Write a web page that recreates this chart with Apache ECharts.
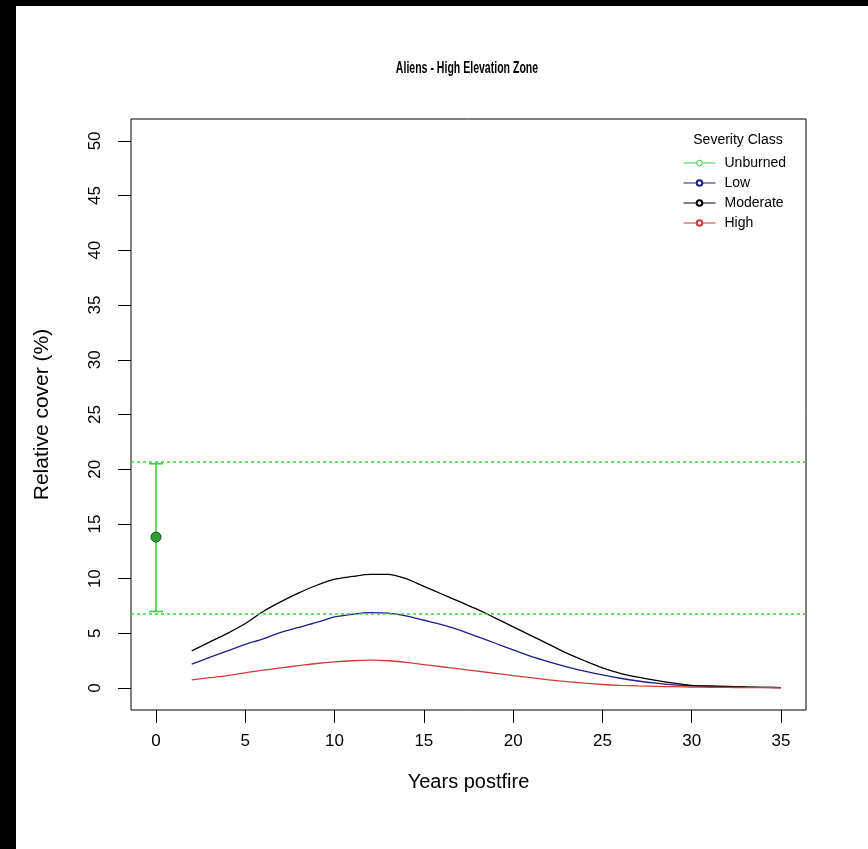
<!DOCTYPE html>
<html>
<head>
<meta charset="utf-8">
<script src="https://cdn.jsdelivr.net/npm/echarts@6/dist/echarts.min.js"></script>
<style>
  html, body { margin: 0; padding: 0; background: #000; }
  #chart { width: 868px; height: 849px; }
</style>
</head>
<body>
<div id="chart"></div>
<script>
// Years postfire for the modelled curves
const years = [2,3,4,5,6,7,8,9,10,11,12,13,14,15,16,17,18,19,20,21,22,23,24,25,26,27,28,29,30,31,32,33,34,35];

// Relative cover (%) by severity class
const lowCover = [2.2,2.8,3.4,4.0,4.5,5.1,5.55,6.0,6.5,6.75,6.9,6.85,6.6,6.2,5.8,5.3,4.7,4.1,3.5,2.9,2.4,1.95,1.55,1.2,0.9,0.65,0.45,0.3,0.2,0.15,0.1,0.08,0.06,0.05];
const moderateCover = [3.4,4.2,5.0,5.9,7.0,7.9,8.7,9.4,9.95,10.2,10.4,10.4,10.0,9.3,8.6,7.9,7.2,6.4,5.6,4.8,4.0,3.2,2.5,1.85,1.35,1.0,0.7,0.45,0.25,0.2,0.15,0.1,0.07,0.05];
const highCover = [0.75,0.95,1.15,1.4,1.65,1.85,2.05,2.25,2.4,2.5,2.55,2.5,2.35,2.15,1.95,1.75,1.55,1.35,1.15,0.95,0.75,0.6,0.45,0.33,0.25,0.2,0.16,0.13,0.1,0.08,0.06,0.05,0.04,0.03];

// Unburned reference: mean with interval, plus band limits
const unburnedYear = 0;
const unburnedMean = 13.8;
const unburnedLow = 7.0;
const unburnedHigh = 20.5;
const bandLimits = [20.7, 6.8];

// Tick labels
const xTicks = [0,5,10,15,20,25,30,35];
const yTicks = [0,5,10,15,20,25,30,35,40,45,50];

const GREEN = '#3fd03f';
const LOW_COL = '#1f1f86';
const HIGH_COL = '#cd3b3b';
const FONT = 'Liberation Sans, Arial, sans-serif';

function pairs(xs, ys) { return xs.map((x, i) => [x, ys[i]]); }

const chart = echarts.init(document.getElementById('chart'), null, { renderer: 'canvas' });

chart.setOption({
  backgroundColor: '#fff',
  animation: false,
  graphic: [
    { type: 'rect', left: 0, top: 0, shape: { width: 16, height: 849 }, style: { fill: '#000' }, z: 100 },
    { type: 'rect', left: 0, top: 0, shape: { width: 868, height: 6 }, style: { fill: '#000' }, z: 100 },
    // condensed bold main title
    {
      type: 'text', x: 467, y: 68, scaleX: 0.62,
      style: {
        text: 'Aliens - High Elevation Zone', x: 0, y: 0,
        align: 'center', verticalAlign: 'middle',
        font: 'bold 17px Liberation Sans, Arial, sans-serif', fill: '#000'
      }
    }
  ],
  title: [
    {
      text: 'Severity Class',
      left: 733, top: 128, textAlign: 'center',
      textStyle: { fontFamily: FONT, fontSize: 14, fontWeight: 'normal', color: '#000' }
    }
  ],
  legend: {
    orient: 'vertical',
    left: 678, top: 151,
    itemWidth: 32, itemHeight: 7, itemGap: 6,
    textStyle: { fontFamily: FONT, fontSize: 14, color: '#000', padding: [0, 0, 0, 4] },
    lineStyle: { width: 1 },
    itemStyle: { borderWidth: 1 },
    data: [
      { name: 'Unburned', itemStyle: { color: '#fff', borderColor: GREEN, borderWidth: 1 }, lineStyle: { color: GREEN, width: 1 } },
      { name: 'Low' },
      { name: 'Moderate' },
      { name: 'High' }
    ]
  },
  grid: {
    left: 131, right: 62, top: 119, bottom: 139,
    show: true, borderColor: '#000', borderWidth: 1, backgroundColor: 'transparent'
  },
  xAxis: {
    type: 'value', min: -1.4, max: 36.4,
    name: 'Years postfire', nameLocation: 'middle', nameGap: 62,
    nameTextStyle: { fontFamily: FONT, fontSize: 20, color: '#000' },
    axisLine: { show: false, onZero: false },
    splitLine: { show: false },
    axisTick: { show: true, length: 13, customValues: xTicks, lineStyle: { color: '#000' } },
    axisLabel: { customValues: xTicks, margin: 23, fontFamily: FONT, fontSize: 17, color: '#000' }
  },
  yAxis: {
    type: 'value', min: -2, max: 52,
    name: 'Relative cover (%)', nameLocation: 'middle', nameGap: 78,
    nameTextStyle: { fontFamily: FONT, fontSize: 21, color: '#000' },
    axisLine: { show: false, onZero: false },
    splitLine: { show: false },
    axisTick: { show: true, length: 13, customValues: yTicks, lineStyle: { color: '#000' } },
    axisLabel: { customValues: yTicks, rotate: 90, margin: 27, fontFamily: FONT, fontSize: 17, color: '#000' }
  },
  series: [
    {
      name: 'Unburned',
      type: 'line',
      data: [[unburnedYear, unburnedMean]],
      symbol: 'circle', symbolSize: 10,
      itemStyle: { color: '#2e9e2e', borderColor: '#1b4f1b', borderWidth: 1 },
      lineStyle: { color: GREEN },
      z: 5,
      markLine: {
        silent: true, symbol: 'none',
        label: { show: false },
        lineStyle: { color: GREEN, type: [3, 3], width: 1.5 },
        data: bandLimits.map(v => ({ yAxis: v }))
      }
    },
    {
      name: 'UnburnedRange',
      type: 'custom',
      data: [[unburnedYear, unburnedLow, unburnedHigh]],
      renderItem: function (params, api) {
        const top = api.coord([api.value(0), api.value(2)]);
        const bot = api.coord([api.value(0), api.value(1)]);
        const hw = 7;
        const st = { stroke: GREEN, lineWidth: 1.6 };
        return {
          type: 'group',
          children: [
            { type: 'line', shape: { x1: top[0], y1: top[1], x2: bot[0], y2: bot[1] }, style: st },
            { type: 'line', shape: { x1: top[0] - hw, y1: top[1], x2: top[0] + hw, y2: top[1] }, style: st },
            { type: 'line', shape: { x1: bot[0] - hw, y1: bot[1], x2: bot[0] + hw, y2: bot[1] }, style: st }
          ]
        };
      },
      z: 4
    },
    {
      name: 'Low', type: 'line', data: pairs(years, lowCover),
      symbol: 'emptyCircle', showSymbol: false, smooth: 0.3,
      itemStyle: { color: LOW_COL }, lineStyle: { color: LOW_COL, width: 1.3 }
    },
    {
      name: 'Moderate', type: 'line', data: pairs(years, moderateCover),
      symbol: 'emptyCircle', showSymbol: false, smooth: 0.3,
      itemStyle: { color: '#000' }, lineStyle: { color: '#000', width: 1.3 }
    },
    {
      name: 'High', type: 'line', data: pairs(years, highCover),
      symbol: 'emptyCircle', showSymbol: false, smooth: 0.3,
      itemStyle: { color: HIGH_COL }, lineStyle: { color: HIGH_COL, width: 1.3 }
    }
  ]
});
</script>
</body>
</html>
